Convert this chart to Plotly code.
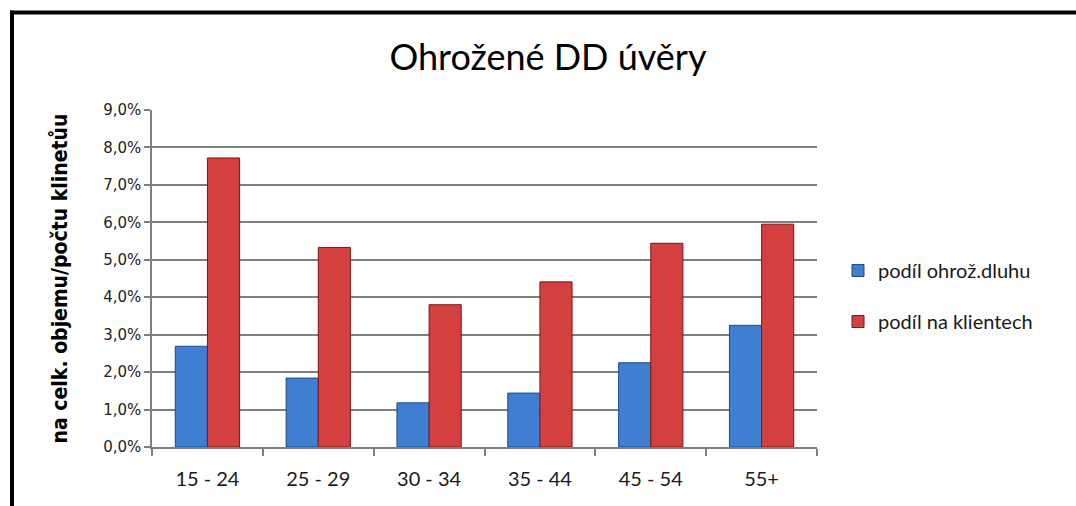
import plotly.graph_objects as go

# age groups and the two shares (fractions)
categories = ['15 - 24', '25 - 29', '30 - 34', '35 - 44', '45 - 54', '55+']
podil_dluhu = [0.0269, 0.0184, 0.0118, 0.0144, 0.0225, 0.0325]
podil_klientu = [0.0772, 0.0533, 0.0380, 0.0441, 0.0544, 0.0595]

W, H = 1076, 506
# plot area in pixels
L, R, T, B = 152, 817, 110, 447


def px(x):
	return (x - L) / (R - L)


def py(y):
	return (B - y) / (B - T)


fig = go.Figure()
fig.add_trace(go.Bar(
	x=categories, y=podil_dluhu, name='podíl ohrož.dluhu',
	legendgroup='a',
	marker=dict(color='#3f7fd2', line=dict(color='#1d4a8c', width=1)),
))
fig.add_trace(go.Bar(
	x=categories, y=podil_klientu, name='podíl na klientech',
	legendgroup='b',
	marker=dict(color='#d43f3f', line=dict(color='#7e1717', width=1)),
))

grid = '#7f7f7f'

# black frame (top and left edges, the rest is cropped off)
shapes = [
	dict(type='line', xref='paper', yref='paper', x0=px(10), x1=px(W + 5), y0=py(12.5), y1=py(12.5),
		line=dict(color='black', width=4)),
	dict(type='line', xref='paper', yref='paper', x0=px(12), x1=px(12), y0=py(10.5), y1=py(H + 5),
		line=dict(color='black', width=4)),
]

fig.update_layout(
	width=W, height=H,
	margin=dict(l=L, r=W - R, t=T, b=H - B, autoexpand=False),
	paper_bgcolor='white', plot_bgcolor='white',
	separators=', ',
	barmode='group', bargap=0.42, bargroupgap=0,
	title=dict(text='Ohrožené DD úvěry', x=548 / W, xanchor='center', y=1 - 57 / H, yanchor='middle',
		font=dict(family='Lato', size=36, color='black')),
	showlegend=True,
	legend=dict(x=px(838), xanchor='left', y=py(296), yanchor='middle',
		traceorder='grouped', tracegroupgap=22,
		font=dict(family='Lato', size=20, color='#1a1a1a'),
		itemwidth=30, bgcolor='rgba(0,0,0,0)'),
	shapes=shapes,
	xaxis=dict(
		showline=True, linecolor=grid, linewidth=1.5,
		ticks='outside', tickson='boundaries', ticklen=7, tickcolor=grid, tickwidth=1.5,
		tickfont=dict(family='Lato', size=20, color='#1a1a1a'),
		ticklabelstandoff=13,
		showgrid=False,
	),
	yaxis=dict(
		range=[0, 0.09], dtick=0.01, tickformat='.1%',
		showline=True, linecolor=grid, linewidth=1.5,
		ticks='outside', ticklen=6, tickcolor=grid, tickwidth=1.5,
		showgrid=True, gridcolor=grid, gridwidth=1.5,
		zeroline=False,
		tickfont=dict(family='DejaVu Sans', size=15, color='#222'),
		title=dict(text='<b>na celk. objemu/počtu klinetůu</b>', standoff=30,
			font=dict(family='DejaVu Sans Condensed', size=21, color='black')),
	),
)

fig.write_html('out.html', config={'displayModeBar': False},
	post_script="document.body.style.margin='0';")
